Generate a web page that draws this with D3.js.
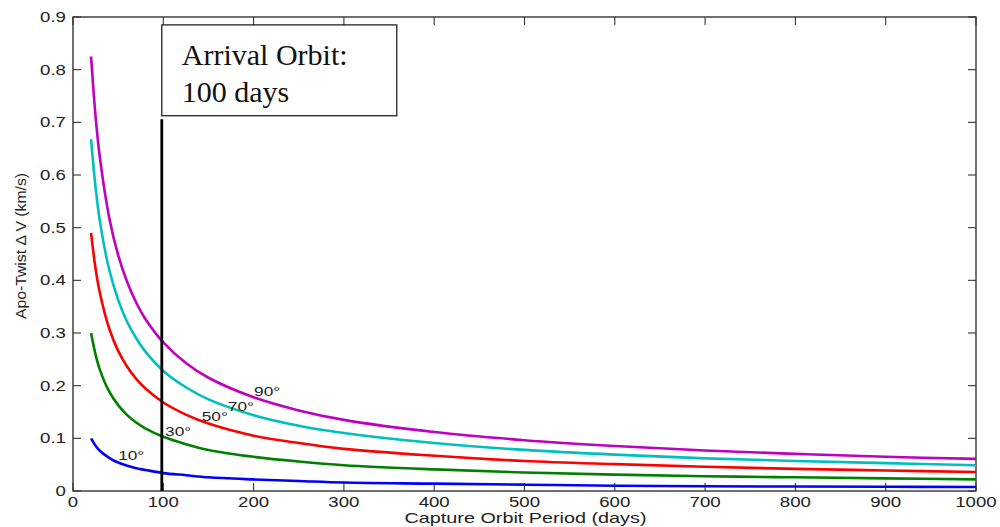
<!DOCTYPE html>
<html>
<head>
<meta charset="utf-8">
<script src="https://cdn.jsdelivr.net/npm/d3@7/dist/d3.min.js"></script>
<style>
  html, body { margin: 0; padding: 0; background: #fff; }
  svg { display: block; }
  text { font-family: "Liberation Sans", Arial, sans-serif; fill: #222; }
</style>
</head>
<body>
<svg id="chart" width="1000" height="527"></svg>
<script>
// ---- data ----
const periods = [20, 25, 30, 40, 50, 60, 70, 80, 100, 125, 150, 200, 250, 300, 400, 500, 600, 700, 800, 900, 1000];
const dv10 = [0.100, 0.086, 0.076, 0.063, 0.054, 0.048, 0.043, 0.040, 0.034, 0.030, 0.026, 0.022, 0.019, 0.016, 0.014, 0.012, 0.010, 0.009, 0.0085, 0.008, 0.0075];
const dv30 = [0.300, 0.259, 0.229, 0.189, 0.163, 0.144, 0.130, 0.119, 0.103, 0.089, 0.078, 0.065, 0.056, 0.049, 0.041, 0.035, 0.031, 0.028, 0.026, 0.024, 0.022];
const dv50 = [0.490, 0.422, 0.374, 0.309, 0.266, 0.236, 0.213, 0.195, 0.168, 0.145, 0.128, 0.105, 0.091, 0.080, 0.067, 0.057, 0.051, 0.046, 0.042, 0.039, 0.036];
const dv70 = [0.668, 0.576, 0.510, 0.421, 0.363, 0.321, 0.290, 0.265, 0.228, 0.197, 0.174, 0.144, 0.124, 0.110, 0.091, 0.078, 0.069, 0.062, 0.057, 0.053, 0.049];
const dv90 = [0.825, 0.711, 0.630, 0.520, 0.448, 0.397, 0.358, 0.327, 0.282, 0.243, 0.215, 0.178, 0.153, 0.135, 0.112, 0.0965, 0.0855, 0.077, 0.0705, 0.065, 0.061];
const seriesNames = ["10°", "30°", "50°", "70°", "90°"];
const seriesColors = ["#0000ff", "#008000", "#ff0000", "#00bfbf", "#bf00bf"];
// curve label anchors (period, ΔV)
const labelPeriods = [50, 102, 142.5, 171.5, 200.5];
const labelValues = [0.059, 0.1044, 0.1329, 0.1525, 0.1804];
const xTicks = [0, 100, 200, 300, 400, 500, 600, 700, 800, 900, 1000];
const yTicks = [0, 0.1, 0.2, 0.3, 0.4, 0.5, 0.6, 0.7, 0.8, 0.9];
const arrivalPeriod = 100;
const arrivalLineTop = 0.706;
const boxTop = 0.885, boxBottom = 0.7125;
const boxLines = ["Arrival Orbit:", "100 days"];
const xTitle = "Capture Orbit Period (days)";
const yTitle = "Apo-Twist \u0394 V (km/s)";

// ---- layout ----
const svg = d3.select("#chart");
const L = 73, R = 976, T = 17, B = 491;
const x = d3.scaleLinear().domain([0, 1000]).range([L, R]);
const y = d3.scaleLinear().domain([0, 0.9]).range([B, T]);
const STRETCH = 1.33;

function stretch(sel, f) {
  sel.each(function () {
    const w = this.getComputedTextLength();
    d3.select(this).attr("textLength", w * (f || STRETCH)).attr("lengthAdjust", "spacingAndGlyphs");
  });
}

// axes box
svg.append("rect").attr("x", L).attr("y", T).attr("width", R - L).attr("height", B - T)
  .attr("fill", "none").attr("stroke", "#111").attr("stroke-width", 1.2);

// ticks (inward, on all four sides)
const tickLen = 8;
const g = svg.append("g").attr("stroke", "#333").attr("stroke-width", 1.1);
xTicks.forEach(t => {
  g.append("line").attr("x1", x(t)).attr("x2", x(t)).attr("y1", B).attr("y2", B - tickLen);
  g.append("line").attr("x1", x(t)).attr("x2", x(t)).attr("y1", T).attr("y2", T + tickLen);
});
yTicks.forEach(t => {
  g.append("line").attr("x1", L).attr("x2", L + tickLen).attr("y1", y(t)).attr("y2", y(t));
  g.append("line").attr("x1", R).attr("x2", R - tickLen).attr("y1", y(t)).attr("y2", y(t));
});

// tick labels
const xl = svg.append("g").selectAll("text").data(xTicks).join("text")
  .attr("x", d => x(d)).attr("y", 507).attr("text-anchor", "middle")
  .attr("font-size", 14).text(d => d);
stretch(xl);
const yl = svg.append("g").selectAll("text").data(yTicks).join("text")
  .attr("x", 66).attr("y", d => y(d) + 5).attr("text-anchor", "end")
  .attr("font-size", 14).text(d => d === 0 ? "0" : d3.format(".1f")(d));
stretch(yl);

// curves
const allSeries = [dv10, dv30, dv50, dv70, dv90];
const line = d3.line().x(d => x(d[0])).y(d => y(d[1])).curve(d3.curveCatmullRom.alpha(0.5));
allSeries.forEach((vals, i) => {
  svg.append("path").datum(periods.map((p, j) => [p, vals[j]]))
    .attr("d", line).attr("fill", "none")
    .attr("stroke", seriesColors[i]).attr("stroke-width", 2.6);
});

// curve labels
const cl = svg.append("g").selectAll("text").data(seriesNames).join("text")
  .attr("x", (d, i) => x(labelPeriods[i])).attr("y", (d, i) => y(labelValues[i]))
  .attr("font-size", 13).text(d => d);
stretch(cl);

// arrival line
svg.append("line").attr("x1", x(arrivalPeriod) - 1.5).attr("x2", x(arrivalPeriod) - 1.5)
  .attr("y1", y(arrivalLineTop)).attr("y2", y(0))
  .attr("stroke", "#000").attr("stroke-width", 2.8);

// annotation box
const bx = x(arrivalPeriod) - 1.5;
svg.append("rect").attr("x", bx).attr("y", y(boxTop)).attr("width", 235)
  .attr("height", y(boxBottom) - y(boxTop))
  .attr("fill", "#fff").attr("stroke", "#111").attr("stroke-width", 1.2);
boxLines.forEach((s, i) => {
  svg.append("text").attr("x", bx + 20).attr("y", 65 + i * 37)
    .style("font-family", "'Liberation Serif', 'Times New Roman', serif")
    .style("fill", "#111").attr("font-size", 30).text(s);
});

// axis titles
svg.append("text").attr("x", (L + R) / 2 + 1).attr("y", 523).attr("text-anchor", "middle")
  .attr("font-size", 14.5).attr("textLength", 242).attr("lengthAdjust", "spacingAndGlyphs")
  .text(xTitle);
svg.append("text").attr("transform", "translate(26,246) rotate(-90)")
  .attr("text-anchor", "middle").attr("font-size", 14)
  .attr("textLength", 146).attr("lengthAdjust", "spacingAndGlyphs").text(yTitle);
</script>
</body>
</html>
